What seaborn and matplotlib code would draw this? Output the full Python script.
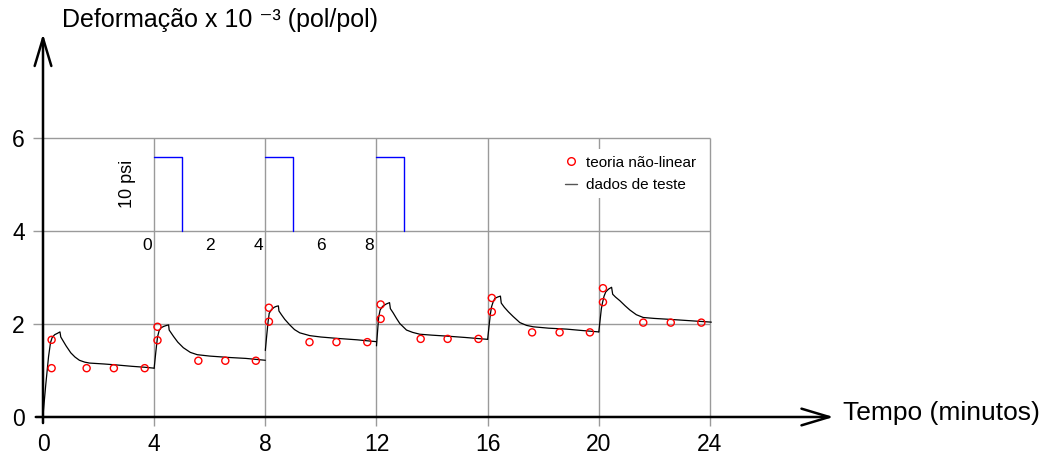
import numpy as np
import pandas as pd
import seaborn as sns
import matplotlib
matplotlib.use("Agg")
import matplotlib.pyplot as plt
from matplotlib.lines import Line2D
from matplotlib.patches import FancyArrowPatch

# dados de teste (curva preta), um ciclo de carga a cada 4 minutos
cycle1_t = [0.0, 0.1, 0.2, 0.27, 0.33, 0.42, 0.52, 0.61, 0.64, 0.70, 0.83, 1.0, 1.15, 1.31, 1.5, 1.67, 2.2, 2.63, 3.2, 3.66, 4.0]
cycle1_e = [0.03, 0.7, 1.3, 1.6, 1.71, 1.77, 1.80, 1.83, 1.72, 1.66, 1.53, 1.38, 1.29, 1.22, 1.18, 1.16, 1.14, 1.12, 1.09, 1.07, 1.05]
cycle2_t = [4.0, 4.06, 4.12, 4.18, 4.25, 4.35, 4.45, 4.52, 4.54, 4.62, 4.70, 4.85, 5.05, 5.3, 5.55, 6.0, 6.7, 7.3, 8.0]
cycle2_e = [1.05, 1.40, 1.72, 1.86, 1.92, 1.95, 1.97, 1.98, 1.87, 1.80, 1.73, 1.61, 1.49, 1.39, 1.34, 1.31, 1.28, 1.26, 1.22]
cycle3_t = [8.0, 8.05, 8.10, 8.14, 8.22, 8.32, 8.40, 8.47, 8.49, 8.58, 8.70, 8.88, 9.05, 9.24, 9.6, 10.0, 10.6, 11.3, 12.0]
cycle3_e = [1.43, 1.75, 2.05, 2.23, 2.31, 2.36, 2.38, 2.39, 2.28, 2.20, 2.10, 1.98, 1.88, 1.81, 1.75, 1.72, 1.69, 1.66, 1.62]
cycle4_t = [12.0, 12.04, 12.08, 12.13, 12.22, 12.35, 12.47, 12.50, 12.60, 12.72, 12.84, 13.08, 13.3, 13.56, 14.0, 14.52, 15.2, 16.0]
cycle4_e = [1.53, 1.85, 2.15, 2.30, 2.38, 2.43, 2.46, 2.33, 2.24, 2.12, 2.01, 1.87, 1.82, 1.78, 1.76, 1.74, 1.71, 1.67]
cycle5_t = [16.0, 16.05, 16.10, 16.14, 16.2, 16.26, 16.36, 16.46, 16.49, 16.6, 16.75, 16.92, 17.16, 17.4, 17.64, 18.2, 18.84, 19.4, 20.0]
cycle5_e = [1.67, 1.95, 2.22, 2.37, 2.48, 2.55, 2.58, 2.60, 2.45, 2.36, 2.26, 2.16, 2.03, 1.97, 1.94, 1.91, 1.89, 1.86, 1.83]
cycle6_t = [20.0, 20.05, 20.09, 20.13, 20.19, 20.25, 20.35, 20.46, 20.50, 20.6, 20.76, 20.95, 21.12, 21.35, 21.6, 22.0, 22.55, 23.3, 24.05]
cycle6_e = [1.83, 2.1, 2.32, 2.45, 2.60, 2.69, 2.75, 2.79, 2.64, 2.58, 2.50, 2.39, 2.30, 2.20, 2.14, 2.12, 2.10, 2.07, 2.04]

# teoria não-linear (círculos vermelhos)
theory_t = [0.31, 0.31, 1.57, 2.55, 3.66, 4.12, 4.12, 5.59, 6.56, 7.66,
            8.13, 8.13, 9.59, 10.56, 11.67, 12.15, 12.15, 13.59, 14.56, 15.67,
            16.15, 16.15, 17.6, 18.59, 19.68, 20.15, 20.15, 21.6, 22.59, 23.69]
theory_e = [1.66, 1.05, 1.05, 1.05, 1.05, 1.94, 1.65, 1.21, 1.21, 1.21,
            2.35, 2.05, 1.61, 1.61, 1.61, 2.42, 2.11, 1.68, 1.68, 1.68,
            2.56, 2.26, 1.82, 1.82, 1.82, 2.77, 2.47, 2.03, 2.03, 2.03]

# pulsos de carga (inset)
pulse_start = [4, 8, 12]
pulse_width = 1
pulse_level = 5.6
pulse_base = 4
inset_ticks = [0, 2, 4, 6, 8]

x_ticks = [0, 4, 8, 12, 16, 20, 24]
y_ticks = [0, 2, 4, 6]

cycles = [(cycle1_t, cycle1_e), (cycle2_t, cycle2_e), (cycle3_t, cycle3_e),
          (cycle4_t, cycle4_e), (cycle5_t, cycle5_e), (cycle6_t, cycle6_e)]
df_test = pd.concat([pd.DataFrame({'t': t, 'e': e, 'ciclo': i}) for i, (t, e) in enumerate(cycles)],
                    ignore_index=True)
df_theory = pd.DataFrame({'t': theory_t, 'e': theory_e})

sns.set_style("white")
plt.rcParams['font.family'] = ['Liberation Sans', 'DejaVu Sans']
plt.rcParams['text.color'] = 'black'
plt.rcParams['xtick.color'] = 'black'
plt.rcParams['ytick.color'] = 'black'

fig = plt.figure(figsize=(10.47, 4.57), dpi=100)
ax = fig.add_axes([0.0278, 0.0621, 0.783, 0.875])
ax.set_xlim(-0.5, 29)
ax.set_ylim(-0.25, 8.35)
for s in ax.spines.values():
    s.set_visible(False)

# grade
grid_c = '#9a9a9a'
ax.hlines([y for y in y_ticks if y > 0], -0.36, 24, color=grid_c, lw=1, zorder=1)
ax.vlines([x for x in x_ticks if x > 0], -0.19, 6, color=grid_c, lw=1, zorder=1)

sns.lineplot(data=df_test, x='t', y='e', units='ciclo', estimator=None, sort=False,
             color='black', lw=0.9, ax=ax, zorder=3)
sns.scatterplot(data=df_theory, x='t', y='e', ax=ax, marker='o', s=26,
                facecolor='none', edgecolor='red', linewidth=1.0, zorder=4)

# pulsos
for s0 in pulse_start:
    ax.plot([s0, s0 + pulse_width, s0 + pulse_width], [pulse_level, pulse_level, pulse_base],
            color='blue', lw=1, zorder=2)
ax.text(3.05, 5.02, '10 psi', rotation=90, ha='center', va='center', fontsize=13)
for tk in inset_ticks:
    xpos = pulse_start[0] + tk
    if tk % 4 == 0:
        ax.text(xpos - 0.08, 3.68, str(tk), ha='right', va='center', fontsize=12.5)
    else:
        ax.text(xpos, 3.68, str(tk), ha='center', va='center', fontsize=12.5)

# eixos com setas
arrow_kw = dict(arrowstyle='->,head_length=1.0,head_width=0.3', mutation_scale=20,
                color='black', lw=1.8, clip_on=False, zorder=5)
ax.add_patch(FancyArrowPatch((-0.36, 0), (28.55, 0), **arrow_kw))
ax.add_patch(FancyArrowPatch((0, -0.19), (0, 8.3), **arrow_kw))

ax.set_xticks(x_ticks)
ax.set_yticks(y_ticks)
ax.tick_params(axis='both', length=0, labelsize=16.5, labelcolor='black')
ax.tick_params(axis='x', pad=3)
ax.tick_params(axis='y', pad=3)
ax.set_xlabel('')
ax.set_ylabel('')

ax.text(28.8, 0.09, 'Tempo (minutos)', ha='left', va='center', fontsize=19, clip_on=False)
fig.text(0.0592, 0.956, 'Deformação x 10 \u207b\u00b3 (pol/pol)', ha='left', va='center', fontsize=18)

handles = [Line2D([], [], marker='o', ls='none', mfc='none', mec='red', ms=5.5, mew=1),
           Line2D([], [], ls='-', color='#555555', lw=1)]
leg = ax.legend(handles, ['teoria não-linear', 'dados de teste'], loc='upper left',
                bbox_to_anchor=(0.534, 0.673), bbox_transform=fig.transFigure,
                fontsize=11, handlelength=0.8, handletextpad=0.55, labelspacing=0.55,
                borderpad=0.4, borderaxespad=0, frameon=True, fancybox=False)
leg.get_frame().set_edgecolor('none')
leg.get_frame().set_facecolor('white')
leg.get_frame().set_alpha(1)
leg.set_zorder(6)

fig.savefig('out.png', dpi=100)
